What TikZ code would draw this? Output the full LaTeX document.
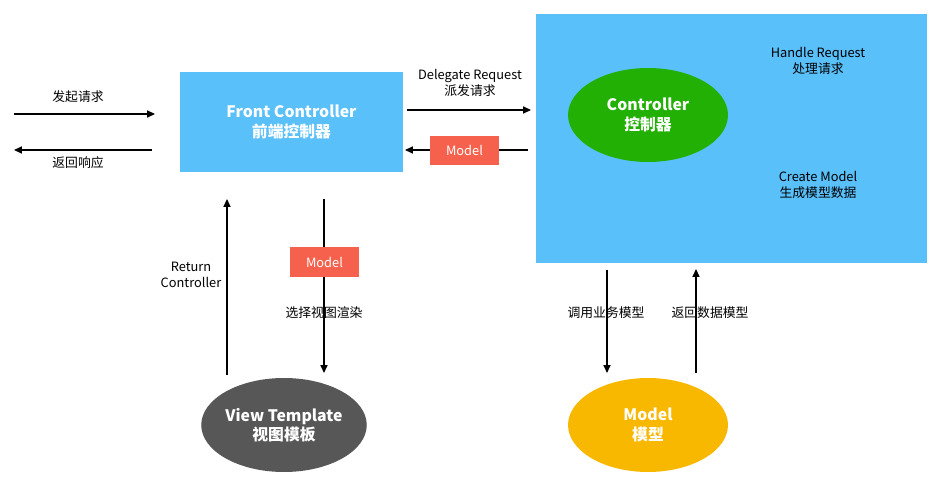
\documentclass[tikz,border=0pt]{standalone}
\usepackage{fontspec}
\setmainfont{Noto Sans CJK SC}
\usetikzlibrary{arrows.meta,shapes.geometric}
\definecolor{fcblue}{HTML}{5AC0FA}
\definecolor{ctlgreen}{HTML}{22B004}
\definecolor{mdlred}{HTML}{F5614C}
\definecolor{viewgray}{HTML}{575757}
\definecolor{mdlyellow}{HTML}{F9B800}
\begin{document}
\begin{tikzpicture}[x=0.02cm,y=-0.02cm,
  box/.style={fill=fcblue,draw=none},
  big/.style={text=white,font=\fontsize{9pt}{11pt}\selectfont\bfseries,align=center},
  lbl/.style={font=\fontsize{7.3pt}{9pt}\selectfont,align=center},
  tag/.style={fill=mdlred,text=white,font=\fontsize{7.3pt}{9pt}\selectfont,minimum width=1.38cm,minimum height=0.6cm,inner sep=0pt},
  ell/.style={ellipse,minimum width=3.2cm,minimum height=1.88cm,inner sep=0pt},
  arr/.style={-{Triangle[length=4.5pt,width=4pt]},line width=0.8pt}]
\useasboundingbox (0,0) rectangle (947,503);
% blue blocks
\node[box,minimum width=4.46cm,minimum height=2cm,inner sep=0pt,big] (fc) at (291.5,122) {Front Controller\\前端控制器};
\node[box,minimum width=7.82cm,minimum height=4.98cm,inner sep=0pt] (hd) at (731.5,138.5) {};
\node[ell,fill=ctlgreen,big] (ctl) at (648,115) {Controller\\控制器};
\node[lbl] (hr) at (818,61) {Handle Request\\处理请求};
\node[lbl] (cm) at (818,185) {Create Model\\生成模型数据};
\node[ell,fill=viewgray,big] (vt) at (284,425) {View Template\\视图模板};
\node[ell,fill=mdlyellow,big] (md) at (648,425) {Model\\模型};
% connector end points
\coordinate (a1) at (14,114); \coordinate (a2) at (155,114);
\coordinate (b1) at (152,150); \coordinate (b2) at (14,150);
\coordinate (c1) at (407,110); \coordinate (c2) at (531,110);
\coordinate (d1) at (528,150); \coordinate (d2) at (405,150);
\coordinate (e1) at (227,375); \coordinate (e2) at (227,199);
\coordinate (f1) at (324,199); \coordinate (f2) at (324,373);
\coordinate (g1) at (607,270); \coordinate (g2) at (607,373);
\coordinate (h1) at (696,373); \coordinate (h2) at (696,269);
\draw[arr] (a1) -- (a2);
\draw[arr] (b1) -- (b2);
\draw[arr] (c1) -- (c2);
\draw[arr] (d1) -- (d2);
\draw[arr] (e1) -- (e2);
\draw[arr] (f1) -- (f2);
\draw[arr] (g1) -- (g2);
\draw[arr] (h1) -- (h2);
% labels
\node[lbl] (la) at (78,97) {发起请求};
\node[lbl] (lb) at (78,163) {返回响应};
\node[lbl] (lc) at (470,83) {Delegate Request\\派发请求};
\node[tag] (td) at (464.5,150.5) {Model};
\node[lbl] (le) at (191,275) {Return\\Controller};
\node[tag] (tf) at (324.5,262) {Model};
\node[lbl] (lf) at (324,313) {选择视图渲染};
\node[lbl] (lg) at (606,313) {调用业务模型};
\node[lbl] (lh) at (710,313) {返回数据模型};
\end{tikzpicture}
\end{document}
